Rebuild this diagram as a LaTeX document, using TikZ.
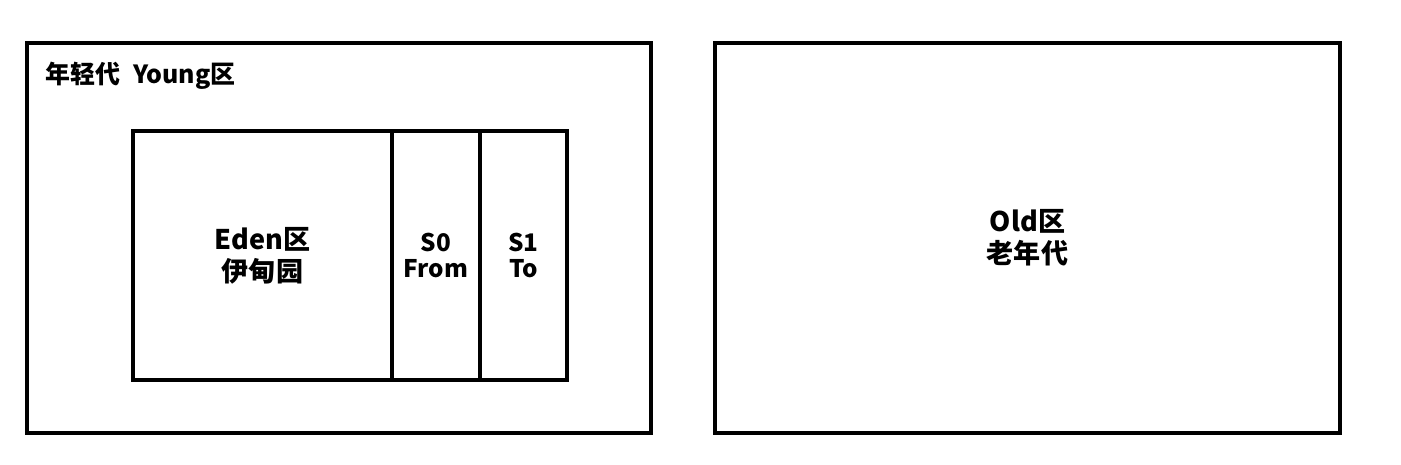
\documentclass[tikz,border=0pt]{standalone}
\usepackage{fontspec}
\newfontfamily\cjk{Noto Sans CJK SC}
\tikzset{
  zone/.style={draw=black, line width=0.9pt, rectangle, inner sep=0pt},
  zlbl/.style={font=\cjk\bfseries\fontsize{7.7}{9.2}\selectfont, align=center},
  slbl/.style={font=\cjk\bfseries\fontsize{6.9}{7.3}\selectfont, align=center},
  tlbl/.style={font=\cjk\bfseries\fontsize{7.1}{8}\selectfont, anchor=west, inner sep=0pt},
}
\begin{document}
\begin{tikzpicture}
\useasboundingbox (0,0) rectangle (14.01,-4.64);
% --- Young + Old ---
\node[zone, minimum width=6.24cm, minimum height=3.90cm] (young) at (3.39,-2.38) {};
\node[zone, minimum width=6.25cm, minimum height=3.90cm, zlbl] (old) at (10.275,-2.38) {Old区\\老年代};
\node[tlbl] (younglbl) at (0.45,-0.76) {年轻代\hspace{0.5em}Young区};

% --- Eden + survivor ---
\node[zone, minimum width=2.59cm, minimum height=2.49cm, zlbl] (eden) at (2.625,-2.555) {Eden区\\伊甸园};
\node[zone, minimum width=0.88cm, minimum height=2.49cm, slbl] (szero) at (4.36,-2.555) {S0\\From};
\node[zone, minimum width=0.87cm, minimum height=2.49cm, slbl] (sone) at (5.235,-2.555) {S1\\To};
\end{tikzpicture}
\end{document}
